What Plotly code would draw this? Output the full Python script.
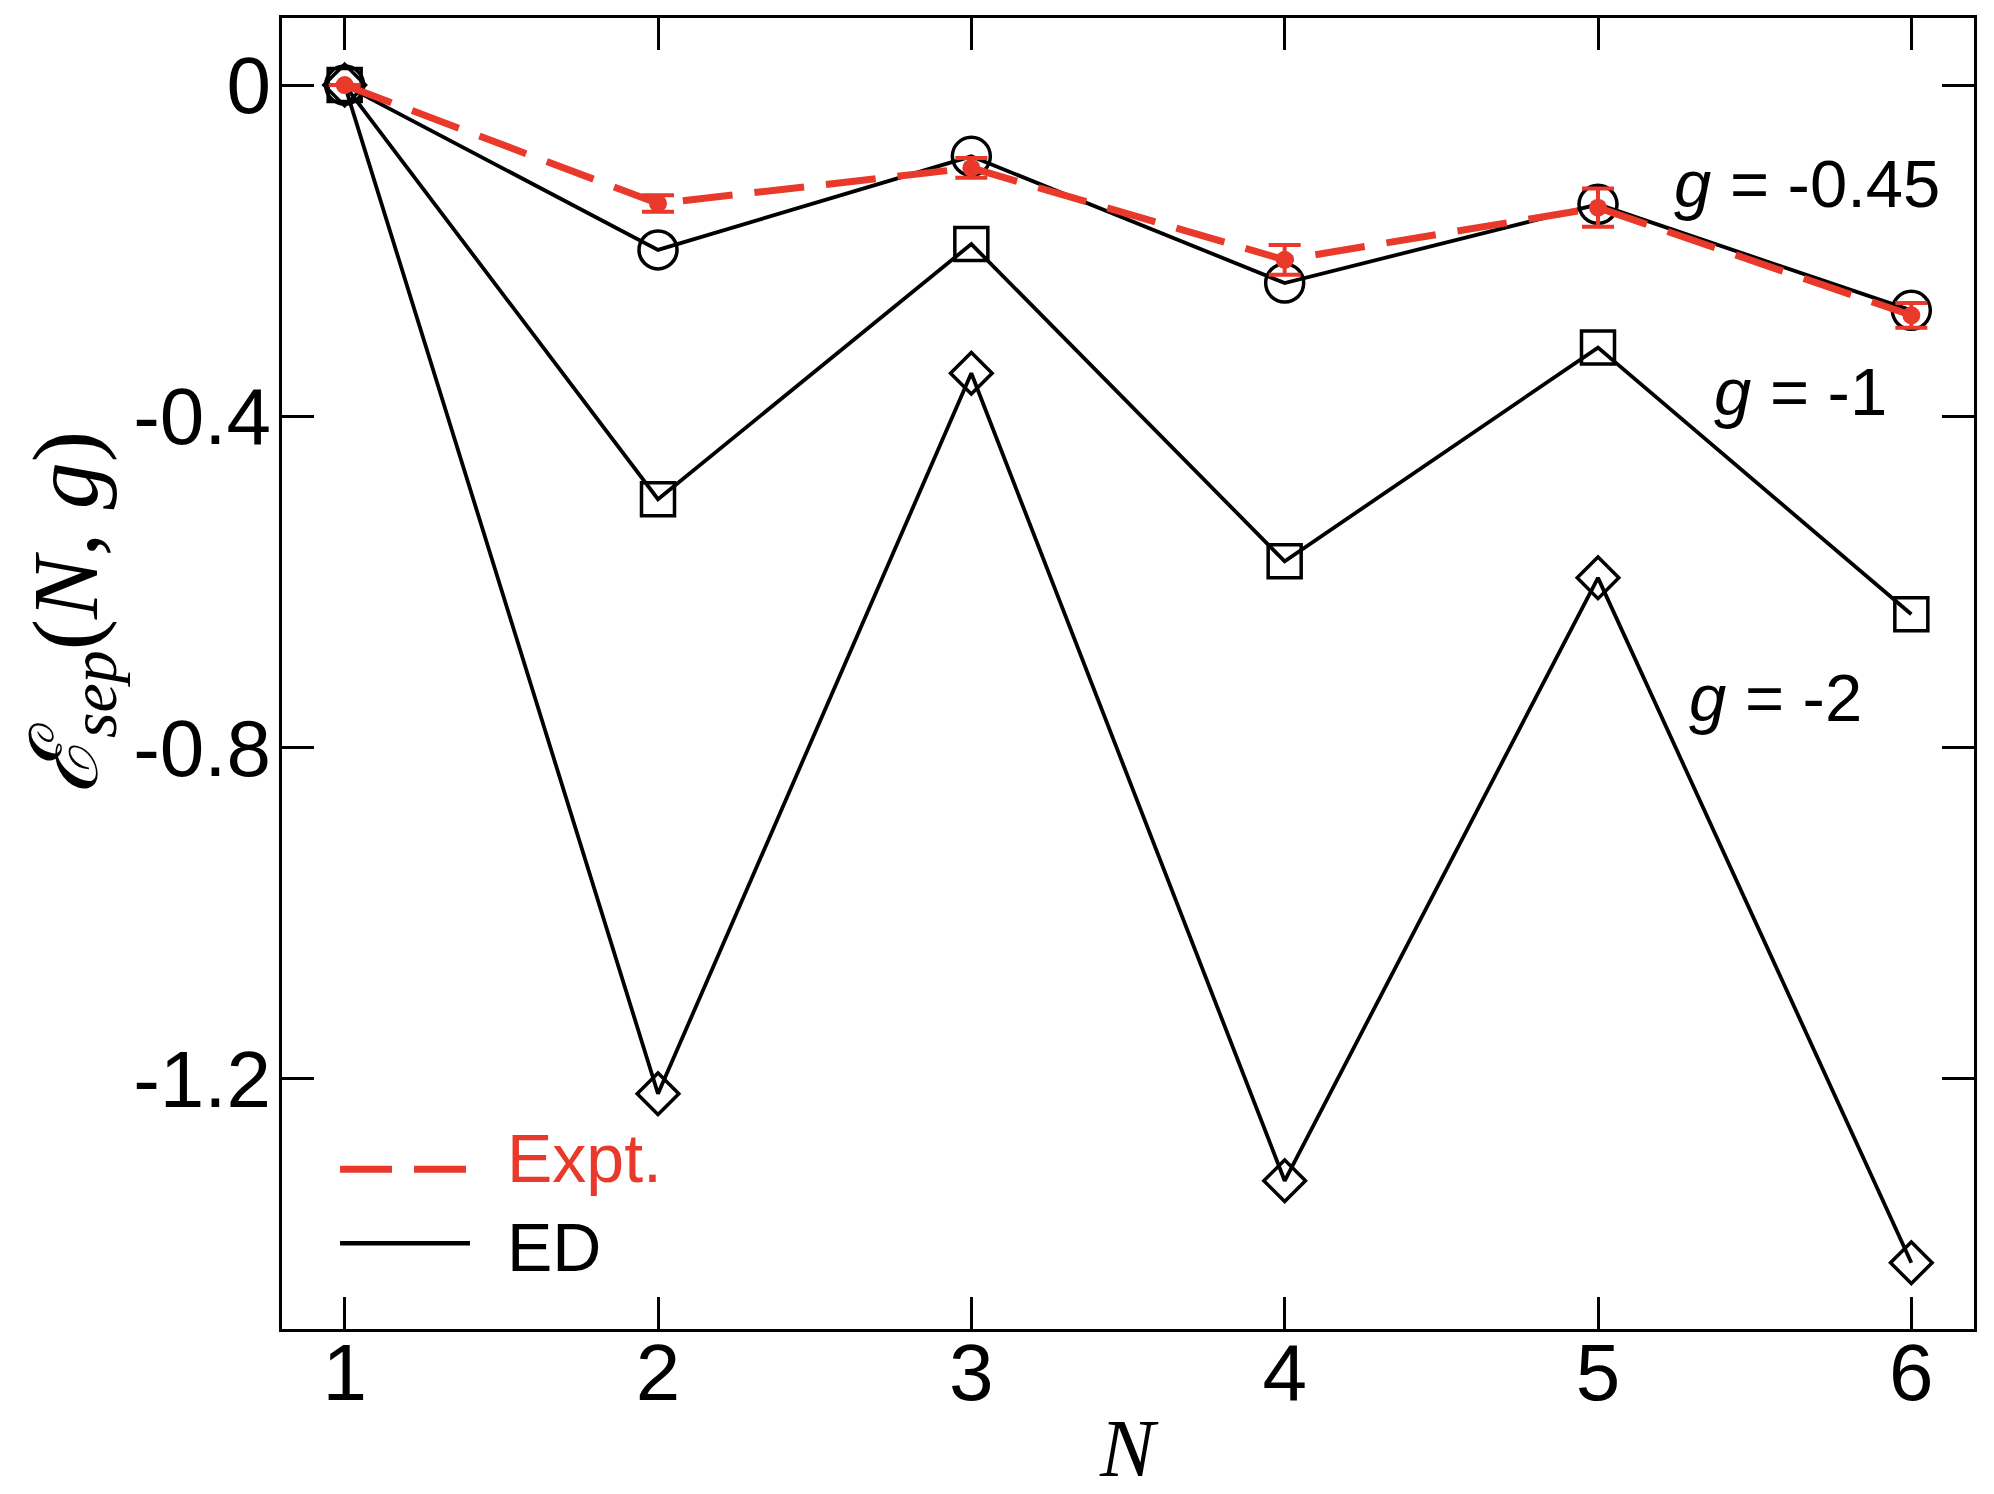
import plotly.graph_objects as go

# N values and separation energies
N = [1, 2, 3, 4, 5, 6]
ed_g045 = [0.0, -0.199, -0.086, -0.239, -0.144, -0.272]
ed_g1 = [0.0, -0.500, -0.192, -0.575, -0.317, -0.639]
ed_g2 = [0.0, -1.218, -0.348, -1.323, -0.595, -1.422]
expt = [0.0, -0.143, -0.100, -0.211, -0.148, -0.278]
expt_err = [0.0, 0.010, 0.012, 0.018, 0.023, 0.015]

labels = ['<i>g</i> = -0.45', '<i>g</i> = -1', '<i>g</i> = -2']
label_x = [5.236, 5.364, 5.284]
label_y = [-0.119, -0.370, -0.740]

RED = '#e8392a'
SANS = 'Liberation Sans, Arial, Helvetica, sans-serif'
SERIF = 'Liberation Serif, DejaVu Serif, Times New Roman, serif'
DASH = '50px,22px'

fig = go.Figure()

for ys, sym, size in [(ed_g2, 'diamond-open', 32),
                      (ed_g1, 'square-open', 33),
                      (ed_g045, 'circle-open', 38)]:
    fig.add_trace(go.Scatter(
        x=N, y=ys, mode='lines+markers',
        line=dict(color='black', width=3.8),
        marker=dict(symbol=sym, size=size, color='black', line=dict(width=3.5)),
        showlegend=False))

fig.add_trace(go.Scatter(
    x=N, y=expt, mode='lines+markers',
    line=dict(color=RED, width=7, dash=DASH),
    marker=dict(symbol='circle', size=18, color=RED),
    error_y=dict(type='data', array=expt_err, color=RED, thickness=4, width=16),
    showlegend=False))

# g labels
for t, xx, yy in zip(labels, label_x, label_y):
    fig.add_annotation(x=xx, y=yy, text=t, showarrow=False, xanchor='left',
                       yanchor='middle', font=dict(family=SANS, size=67, color='black'))

# legend drawn by hand so the line samples are long like the original
fig.add_shape(type='line', xref='paper', yref='paper', x0=0.0343, x1=0.1111,
              y0=0.1218, y1=0.1218, line=dict(color=RED, width=7, dash='52px,22px'))
fig.add_shape(type='line', xref='paper', yref='paper', x0=0.0343, x1=0.1111,
              y0=0.0654, y1=0.0654, line=dict(color='black', width=4.5))
fig.add_annotation(xref='paper', yref='paper', x=0.1318, y=0.1301, text='Expt.',
                   showarrow=False, xanchor='left', yanchor='middle',
                   font=dict(family=SANS, size=68, color=RED))
fig.add_annotation(xref='paper', yref='paper', x=0.1318, y=0.0624, text='ED',
                   showarrow=False, xanchor='left', yanchor='middle',
                   font=dict(family=SANS, size=68, color='black'))

# axis titles
fig.add_annotation(xref='paper', yref='paper', x=-0.1245, y=0.5464, textangle=-90,
                   text='<i>ℰ<sub>sep</sub></i>(<i>N</i>, <i>g</i>)', showarrow=False,
                   xanchor='center', yanchor='middle',
                   font=dict(family=SERIF, size=94, color='black'))
fig.add_annotation(xref='paper', yref='paper', x=0.5006, y=-0.0913, text='<i>N</i>',
                   showarrow=False, xanchor='center', yanchor='middle',
                   font=dict(family=SERIF, size=82, color='black'))

axis_common = dict(showline=True, linecolor='black', linewidth=3, mirror='allticks',
                   ticks='inside', ticklen=32, tickwidth=2.7, tickcolor='black',
                   showgrid=False, zeroline=False,
                   tickfont=dict(family=SANS, size=80, color='black'))

fig.update_xaxes(range=[0.8, 6.2], tickvals=N, ticktext=[str(n) for n in N],
                 ticklabelstandoff=-28, **axis_common)
fig.update_yaxes(range=[-1.502, 0.081], tickvals=[0, -0.4, -0.8, -1.2],
                 ticktext=['0', '-0.4', '-0.8', '-1.2'], ticklabelstandoff=-8, **axis_common)

# page body has an 8px margin, so margins are shifted to put the frame where the original has it
fig.update_layout(width=1994, height=1494, plot_bgcolor='white', paper_bgcolor='white',
                  margin=dict(l=274, r=28, t=7, b=173))

fig.write_html("out.html")
